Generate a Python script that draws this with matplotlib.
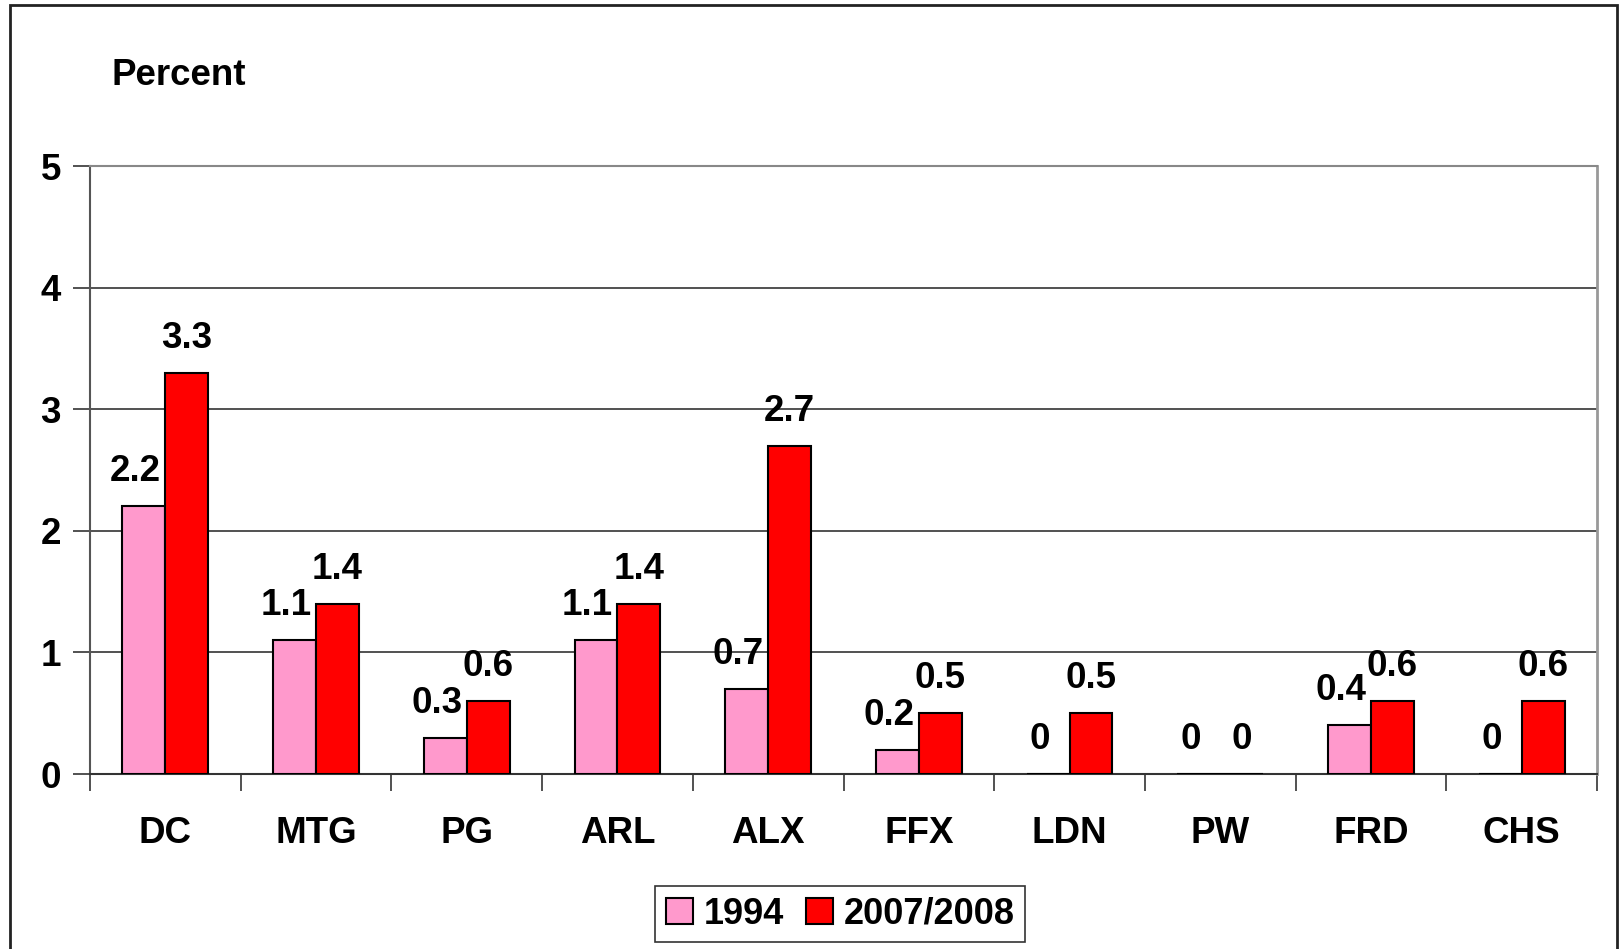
import matplotlib
matplotlib.use("Agg")
import matplotlib.pyplot as plt
from matplotlib.patches import Rectangle
import numpy as np

categories = ["DC", "MTG", "PG", "ARL", "ALX", "FFX", "LDN", "PW", "FRD", "CHS"]
vals_1994 = [2.2, 1.1, 0.3, 1.1, 0.7, 0.2, 0, 0, 0.4, 0]
vals_0708 = [3.3, 1.4, 0.6, 1.4, 2.7, 0.5, 0.5, 0, 0.6, 0.6]
series_labels = ["1994", "2007/2008"]
yticks = [0, 1, 2, 3, 4, 5]

plt.rcParams['font.family'] = ['Liberation Sans', 'DejaVu Sans']
plt.rcParams['font.weight'] = 'bold'

W, H = 1621, 949
fig = plt.figure(figsize=(W / 100, H / 100), dpi=100)
ax = fig.add_axes([90 / W, 1 - 774 / H, (1597 - 90) / W, (774 - 166) / H])

x = np.arange(len(categories))
bw = 0.285
pink = "#FF99CC"
red = "#FF0000"
b1 = ax.bar(x - bw / 2, vals_1994, bw, color=pink, edgecolor="black", linewidth=1.5, label=series_labels[0], zorder=3)
b2 = ax.bar(x + bw / 2, vals_0708, bw, color=red, edgecolor="black", linewidth=1.5, label=series_labels[1], zorder=3)

def fmt(v):
    return "0" if v == 0 else f"{v:g}"

LBL = 26.5
for xi, v in zip(x, vals_1994):
    ax.annotate(fmt(v), (xi - bw / 2, v), xytext=(-6, 18), textcoords="offset points",
                ha="center", va="baseline", fontsize=LBL, fontweight="bold", zorder=4)
for xi, v in zip(x, vals_0708):
    ax.annotate(fmt(v), (xi + bw / 2, v), xytext=(0, 18), textcoords="offset points",
                ha="center", va="baseline", fontsize=LBL, fontweight="bold", zorder=4)

ax.set_xlim(-0.5, len(categories) - 0.5)
ax.set_ylim(0, 5)
ax.set_yticks(yticks)
ax.set_yticklabels([str(t) for t in yticks], fontsize=26.5, fontweight="bold")
ax.yaxis.grid(True, color="#333333", linewidth=1.2, zorder=0)
ax.set_axisbelow(True)

# category labels at centers, separator ticks between
ax.set_xticks(np.arange(-0.5, len(categories), 1.0))
ax.set_xticklabels([])
ax.tick_params(axis="x", which="major", length=12, width=1.2, color="#333333")
ax.set_xticks(x, minor=True)
ax.set_xticklabels(categories, minor=True, fontsize=26.5, fontweight="bold")
ax.tick_params(axis="x", which="minor", length=0, pad=30)
ax.tick_params(axis="y", length=12, width=1.2, color="#333333", pad=9)

ax.spines["top"].set_color("#888888")
ax.spines["top"].set_linewidth(1.5)
ax.spines["right"].set_color("#999999")
ax.spines["right"].set_linewidth(2)
ax.spines["left"].set_color("#555555")
ax.spines["left"].set_linewidth(1.5)
ax.spines["bottom"].set_color("#333333")
ax.spines["bottom"].set_linewidth(1.5)

fig.text(111 / W, 1 - 85 / H, "Percent", fontsize=26.5, fontweight="bold", ha="left", va="baseline")

leg = fig.legend(handles=[b1, b2], labels=series_labels, loc="center",
                 bbox_to_anchor=((655 + 1025) / 2 / W, 1 - 914 / H), ncol=2,
                 frameon=True, fancybox=False, edgecolor="black",
                 handlelength=0.75, handleheight=0.75, handletextpad=0.3,
                 columnspacing=0.6, borderpad=0.3, prop={"weight": "bold", "size": 26})
leg.get_frame().set_linewidth(1.2)

# outer border
fig.patches.append(Rectangle((10 / W, -0.05), (1617 - 10) / W, 1.05 - 5 / H,
                             transform=fig.transFigure, fill=False,
                             edgecolor="#222222", linewidth=2))

fig.savefig("out.png", dpi=100)
